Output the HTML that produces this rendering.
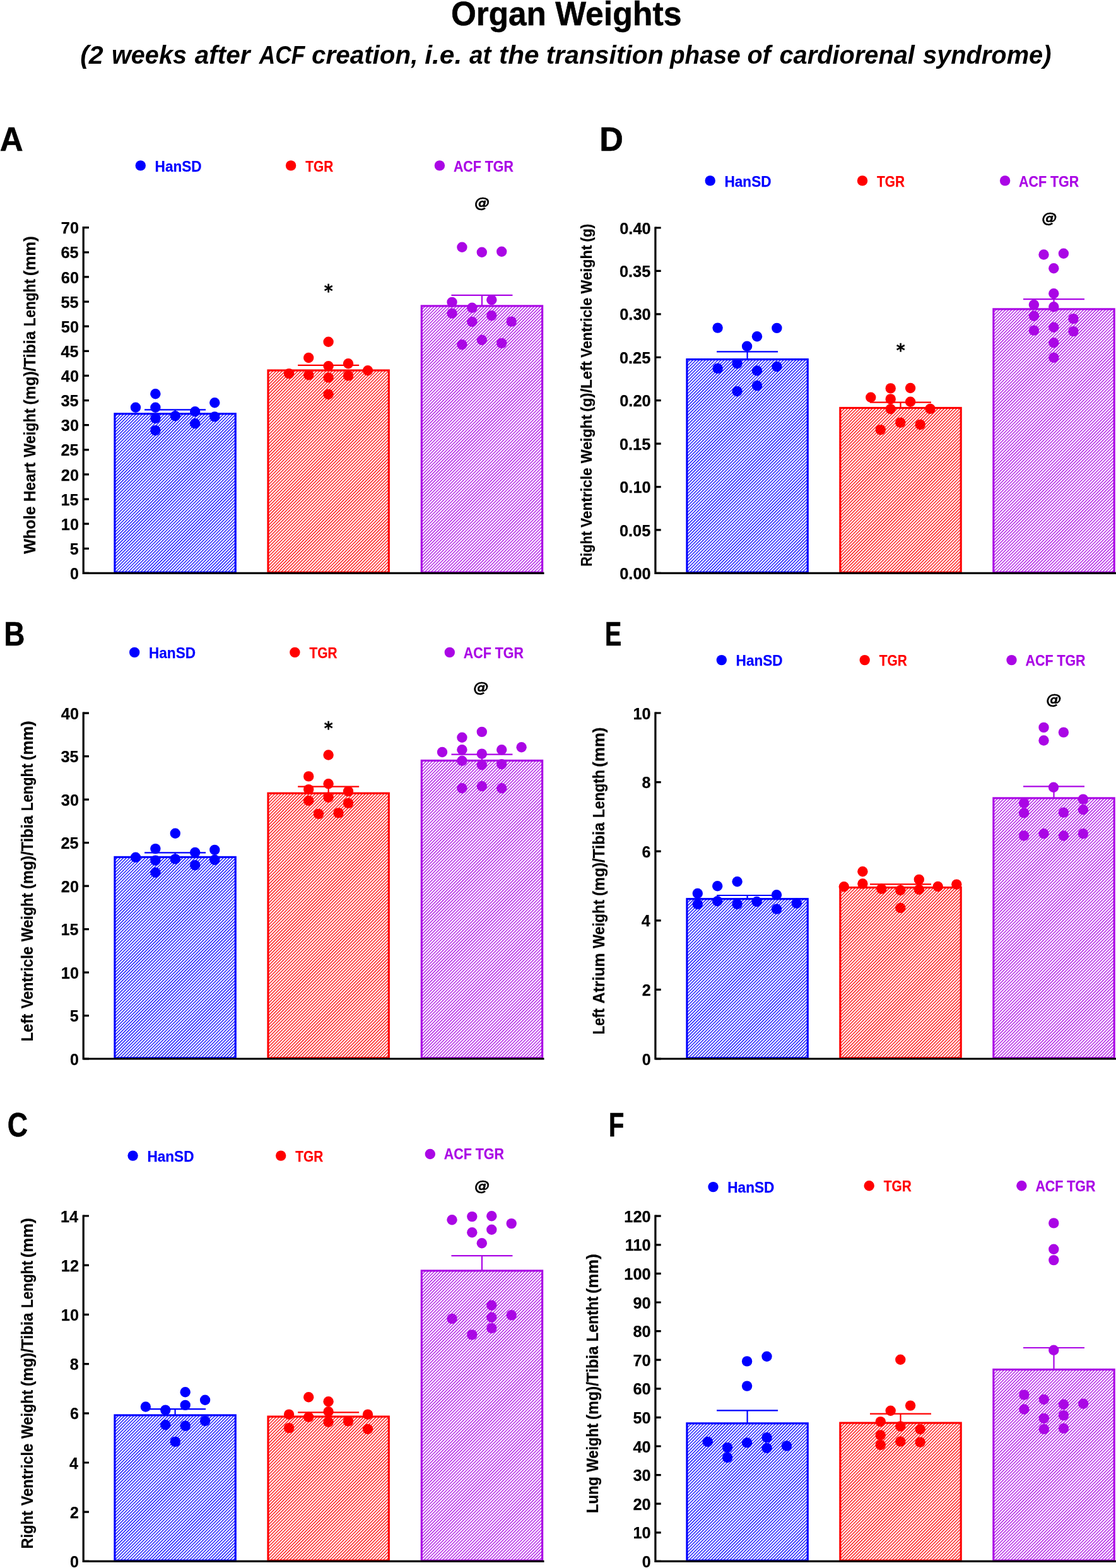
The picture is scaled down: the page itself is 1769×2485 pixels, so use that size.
<!DOCTYPE html>
<html lang="en"><head><meta charset="utf-8"><title>Organ Weights</title>
<style>html,body{margin:0;padding:0;background:#fff}body{width:1769px;height:2485px;overflow:hidden}svg{display:block}text{font-family:"Liberation Sans",sans-serif;font-weight:bold;white-space:pre}.dj{font-family:"DejaVu Sans","Liberation Sans",sans-serif}</style></head><body>
<svg width="1769" height="2485" viewBox="0 0 1769 2485">
<defs><pattern id="hb" patternUnits="userSpaceOnUse" width="3.5" height="8" patternTransform="rotate(45)"><rect x="0" y="0" width="1.3" height="8" fill="#0000ff"/></pattern><pattern id="hr" patternUnits="userSpaceOnUse" width="3.5" height="8" patternTransform="rotate(45)"><rect x="0" y="0" width="1.3" height="8" fill="#ff0000"/></pattern><pattern id="hp" patternUnits="userSpaceOnUse" width="3.5" height="8" patternTransform="rotate(45)"><rect x="0" y="0" width="1.3" height="8" fill="#aa06e5"/></pattern></defs>
<rect width="1769" height="2485" fill="#fff"/>
<text x="714.91" y="39.90" font-size="53.05" fill="#000" stroke="#000" stroke-width="0.53" textLength="150.99" lengthAdjust="spacingAndGlyphs">Organ</text>
<text x="880.14" y="39.90" font-size="53.05" fill="#000" stroke="#000" stroke-width="0.53" textLength="200.31" lengthAdjust="spacingAndGlyphs">Weights</text>
<text x="127.16" y="100.50" font-size="41.43" font-style="italic" fill="#000" textLength="36.62" lengthAdjust="spacingAndGlyphs">(2</text>
<text x="176.91" y="100.50" font-size="41.43" font-style="italic" fill="#000" textLength="119.18" lengthAdjust="spacingAndGlyphs">weeks</text>
<text x="308.70" y="100.50" font-size="41.43" font-style="italic" fill="#000" textLength="87.78" lengthAdjust="spacingAndGlyphs">after</text>
<text x="410.80" y="100.50" font-size="41.43" font-style="italic" fill="#000" textLength="72.41" lengthAdjust="spacingAndGlyphs">ACF</text>
<text x="493.89" y="100.50" font-size="41.43" font-style="italic" fill="#000" textLength="168.68" lengthAdjust="spacingAndGlyphs">creation,</text>
<text x="673.16" y="100.50" font-size="41.43" font-style="italic" fill="#000" textLength="59.04" lengthAdjust="spacingAndGlyphs">i.e.</text>
<text x="743.91" y="100.50" font-size="41.43" font-style="italic" fill="#000" textLength="34.40" lengthAdjust="spacingAndGlyphs">at</text>
<text x="791.10" y="100.50" font-size="41.43" font-style="italic" fill="#000" textLength="63.46" lengthAdjust="spacingAndGlyphs">the</text>
<text x="865.77" y="100.50" font-size="41.43" font-style="italic" fill="#000" textLength="185.90" lengthAdjust="spacingAndGlyphs">transition</text>
<text x="1061.97" y="100.50" font-size="41.43" font-style="italic" fill="#000" textLength="111.80" lengthAdjust="spacingAndGlyphs">phase</text>
<text x="1184.41" y="100.50" font-size="41.43" font-style="italic" fill="#000" textLength="37.38" lengthAdjust="spacingAndGlyphs">of</text>
<text x="1235.41" y="100.50" font-size="41.43" font-style="italic" fill="#000" textLength="214.45" lengthAdjust="spacingAndGlyphs">cardiorenal</text>
<text x="1463.00" y="100.50" font-size="41.43" font-style="italic" fill="#000" textLength="203.39" lengthAdjust="spacingAndGlyphs">syndrome)</text>
<rect x="181.93" y="655.78" width="191.35" height="251.42" fill="url(#hb)" stroke="#0000ff" stroke-width="3.15"/>
<rect x="424.97" y="586.98" width="191.35" height="320.22" fill="url(#hr)" stroke="#ff0000" stroke-width="3.15"/>
<rect x="668.28" y="484.88" width="191.35" height="422.32" fill="url(#hp)" stroke="#aa06e5" stroke-width="3.15"/>
<path d="M229.10 649.40H326.10M277.60 649.40V655.20" stroke="#0000ff" stroke-width="2.2" fill="none"/>
<path d="M472.15 578.80H569.15M520.65 578.80V586.40" stroke="#ff0000" stroke-width="2.2" fill="none"/>
<path d="M715.45 467.90H812.45M763.95 467.90V484.30" stroke="#aa06e5" stroke-width="2.2" fill="none"/>
<g fill="#0000ff"><circle cx="215.0" cy="645.7" r="8.2"/><circle cx="246.4" cy="624.2" r="8.2"/><circle cx="246.4" cy="645.7" r="8.2"/><circle cx="246.4" cy="663.0" r="8.2"/><circle cx="246.4" cy="682.2" r="8.2"/><circle cx="277.8" cy="659.3" r="8.2"/><circle cx="309.2" cy="652.3" r="8.2"/><circle cx="309.2" cy="671.2" r="8.2"/><circle cx="340.3" cy="638.3" r="8.2"/><circle cx="340.3" cy="660.4" r="8.2"/></g>
<g fill="#ff0000"><circle cx="458.1" cy="592.1" r="8.2"/><circle cx="489.2" cy="567.0" r="8.2"/><circle cx="489.2" cy="594.3" r="8.2"/><circle cx="520.6" cy="541.7" r="8.2"/><circle cx="520.6" cy="580.3" r="8.2"/><circle cx="520.6" cy="598.4" r="8.2"/><circle cx="520.6" cy="625.0" r="8.2"/><circle cx="552.0" cy="576.2" r="8.2"/><circle cx="552.0" cy="595.4" r="8.2"/><circle cx="583.0" cy="587.3" r="8.2"/></g>
<g fill="#aa06e5"><circle cx="732.4" cy="391.7" r="8.2"/><circle cx="763.8" cy="399.8" r="8.2"/><circle cx="795.2" cy="398.7" r="8.2"/><circle cx="716.5" cy="478.9" r="8.2"/><circle cx="779.3" cy="475.2" r="8.2"/><circle cx="748.3" cy="487.8" r="8.2"/><circle cx="716.5" cy="496.6" r="8.2"/><circle cx="779.3" cy="500.3" r="8.2"/><circle cx="748.3" cy="509.9" r="8.2"/><circle cx="810.7" cy="509.6" r="8.2"/><circle cx="732.4" cy="546.2" r="8.2"/><circle cx="763.8" cy="538.8" r="8.2"/><circle cx="795.2" cy="543.9" r="8.2"/></g>
<path d="M132.20 359.10V910.00M130.60 908.40H862.50" stroke="#000" stroke-width="3.2" fill="none"/>
<path d="M132.20 360.70h8.80M132.20 399.82h8.80M132.20 438.94h8.80M132.20 478.06h8.80M132.20 517.19h8.80M132.20 556.31h8.80M132.20 595.43h8.80M132.20 634.55h8.80M132.20 673.67h8.80M132.20 712.79h8.80M132.20 751.91h8.80M132.20 791.04h8.80M132.20 830.16h8.80M132.20 869.28h8.80M132.20 908.40h8.80" stroke="#000" stroke-width="3.2" fill="none"/>
<text x="96.85" y="370.30" font-size="25.00" fill="#000" stroke="#000" stroke-width="0.25" textLength="28.09" lengthAdjust="spacingAndGlyphs">70</text>
<text x="96.53" y="409.42" font-size="25.00" fill="#000" stroke="#000" stroke-width="0.25" textLength="28.10" lengthAdjust="spacingAndGlyphs">65</text>
<text x="96.85" y="448.54" font-size="25.00" fill="#000" stroke="#000" stroke-width="0.25" textLength="28.10" lengthAdjust="spacingAndGlyphs">60</text>
<text x="96.53" y="487.66" font-size="25.00" fill="#000" stroke="#000" stroke-width="0.25" textLength="28.10" lengthAdjust="spacingAndGlyphs">55</text>
<text x="96.85" y="526.79" font-size="25.00" fill="#000" stroke="#000" stroke-width="0.25" textLength="28.10" lengthAdjust="spacingAndGlyphs">50</text>
<text x="96.52" y="565.91" font-size="25.00" fill="#000" stroke="#000" stroke-width="0.25" textLength="28.10" lengthAdjust="spacingAndGlyphs">45</text>
<text x="96.84" y="605.03" font-size="25.00" fill="#000" stroke="#000" stroke-width="0.25" textLength="28.10" lengthAdjust="spacingAndGlyphs">40</text>
<text x="96.53" y="644.15" font-size="25.00" fill="#000" stroke="#000" stroke-width="0.25" textLength="28.10" lengthAdjust="spacingAndGlyphs">35</text>
<text x="96.84" y="683.27" font-size="25.00" fill="#000" stroke="#000" stroke-width="0.25" textLength="28.10" lengthAdjust="spacingAndGlyphs">30</text>
<text x="96.53" y="722.39" font-size="25.00" fill="#000" stroke="#000" stroke-width="0.25" textLength="28.10" lengthAdjust="spacingAndGlyphs">25</text>
<text x="96.85" y="761.51" font-size="25.00" fill="#000" stroke="#000" stroke-width="0.25" textLength="28.10" lengthAdjust="spacingAndGlyphs">20</text>
<text x="96.54" y="800.64" font-size="25.00" fill="#000" stroke="#000" stroke-width="0.25" textLength="28.09" lengthAdjust="spacingAndGlyphs">15</text>
<text x="96.86" y="839.76" font-size="25.00" fill="#000" stroke="#000" stroke-width="0.25" textLength="28.09" lengthAdjust="spacingAndGlyphs">10</text>
<text x="110.69" y="878.88" font-size="25.00" fill="#000" stroke="#000" stroke-width="0.25" textLength="13.90" lengthAdjust="spacingAndGlyphs">5</text>
<text x="111.01" y="918.00" font-size="25.00" fill="#000" stroke="#000" stroke-width="0.25" textLength="13.89" lengthAdjust="spacingAndGlyphs">0</text>
<text transform="translate(55.70 877.67) rotate(-90)" x="-0.06" y="0" font-size="25.00" fill="#000" stroke="#000" stroke-width="0.25" textLength="75.38" lengthAdjust="spacingAndGlyphs">Whole</text>
<text transform="translate(55.70 793.37) rotate(-90)" x="-1.64" y="0" font-size="25.00" fill="#000" stroke="#000" stroke-width="0.25" textLength="62.03" lengthAdjust="spacingAndGlyphs">Heart</text>
<text transform="translate(55.70 724.67) rotate(-90)" x="-0.06" y="0" font-size="25.00" fill="#000" stroke="#000" stroke-width="0.25" textLength="77.19" lengthAdjust="spacingAndGlyphs">Weight</text>
<text transform="translate(55.70 640.27) rotate(-90)" x="-1.22" y="0" font-size="25.00" fill="#000" stroke="#000" stroke-width="0.25" textLength="116.54" lengthAdjust="spacingAndGlyphs">(mg)/Tibia</text>
<text transform="translate(55.70 515.67) rotate(-90)" x="-1.52" y="0" font-size="25.00" fill="#000" stroke="#000" stroke-width="0.25" textLength="75.05" lengthAdjust="spacingAndGlyphs">Lenght</text>
<text transform="translate(55.70 435.87) rotate(-90)" x="-1.29" y="0" font-size="25.00" fill="#000" stroke="#000" stroke-width="0.25" textLength="63.01" lengthAdjust="spacingAndGlyphs">(mm)</text>
<circle cx="222.8" cy="262.4" r="8.2" fill="#0000ff"/>
<text x="245.60" y="271.90" font-size="24.71" fill="#0000ff" stroke="#0000ff" stroke-width="0.25" textLength="74.06" lengthAdjust="spacingAndGlyphs">HanSD</text>
<circle cx="461.1" cy="262.4" r="8.2" fill="#ff0000"/>
<text x="484.22" y="271.90" font-size="24.71" fill="#ff0000" stroke="#ff0000" stroke-width="0.25" textLength="43.95" lengthAdjust="spacingAndGlyphs">TGR</text>
<circle cx="696.9" cy="262.4" r="8.2" fill="#aa06e5"/>
<text x="718.89" y="271.90" font-size="24.71" fill="#aa06e5" stroke="#aa06e5" stroke-width="0.25" textLength="95.05" lengthAdjust="spacingAndGlyphs">ACF TGR</text>
<text x="-0.31" y="238.80" font-size="53.78" fill="#000" stroke="#000" stroke-width="0.54" textLength="36.93" lengthAdjust="spacingAndGlyphs">A</text>
<text x="752.30" y="329.00" font-size="23.77" font-style="italic" class="dj" fill="#000" stroke="#000" stroke-width="0.45" textLength="24.48" lengthAdjust="spacingAndGlyphs">@</text>
<text x="513.67" y="470.80" font-size="28.82" class="dj" fill="#000" stroke="#000" stroke-width="0.45" textLength="13.87" lengthAdjust="spacingAndGlyphs">*</text>
<rect x="181.93" y="1358.38" width="191.35" height="318.43" fill="url(#hb)" stroke="#0000ff" stroke-width="3.15"/>
<rect x="424.97" y="1257.17" width="191.35" height="419.63" fill="url(#hr)" stroke="#ff0000" stroke-width="3.15"/>
<rect x="668.28" y="1205.38" width="191.35" height="471.43" fill="url(#hp)" stroke="#aa06e5" stroke-width="3.15"/>
<path d="M229.10 1351.40H326.10M277.60 1351.40V1357.80" stroke="#0000ff" stroke-width="2.2" fill="none"/>
<path d="M472.15 1246.70H569.15M520.65 1246.70V1256.60" stroke="#ff0000" stroke-width="2.2" fill="none"/>
<path d="M715.45 1195.70H812.45M763.95 1195.70V1204.80" stroke="#aa06e5" stroke-width="2.2" fill="none"/>
<g fill="#0000ff"><circle cx="277.8" cy="1320.7" r="8.2"/><circle cx="246.4" cy="1345.1" r="8.2"/><circle cx="340.3" cy="1346.9" r="8.2"/><circle cx="309.2" cy="1351.0" r="8.2"/><circle cx="215.0" cy="1358.8" r="8.2"/><circle cx="277.8" cy="1361.4" r="8.2"/><circle cx="246.4" cy="1363.6" r="8.2"/><circle cx="340.3" cy="1362.8" r="8.2"/><circle cx="309.2" cy="1371.3" r="8.2"/><circle cx="246.4" cy="1382.8" r="8.2"/></g>
<g fill="#ff0000"><circle cx="520.6" cy="1196.5" r="8.2"/><circle cx="489.2" cy="1230.4" r="8.2"/><circle cx="520.6" cy="1242.3" r="8.2"/><circle cx="489.2" cy="1251.1" r="8.2"/><circle cx="552.0" cy="1254.1" r="8.2"/><circle cx="520.6" cy="1263.7" r="8.2"/><circle cx="489.2" cy="1268.9" r="8.2"/><circle cx="552.0" cy="1272.9" r="8.2"/><circle cx="505.0" cy="1289.9" r="8.2"/><circle cx="536.5" cy="1288.4" r="8.2"/></g>
<g fill="#aa06e5"><circle cx="701.0" cy="1192.0" r="8.2"/><circle cx="732.4" cy="1168.7" r="8.2"/><circle cx="763.8" cy="1159.9" r="8.2"/><circle cx="732.4" cy="1188.3" r="8.2"/><circle cx="795.2" cy="1188.3" r="8.2"/><circle cx="826.6" cy="1184.3" r="8.2"/><circle cx="763.8" cy="1194.6" r="8.2"/><circle cx="732.4" cy="1205.7" r="8.2"/><circle cx="763.8" cy="1212.3" r="8.2"/><circle cx="795.2" cy="1211.2" r="8.2"/><circle cx="732.4" cy="1249.3" r="8.2"/><circle cx="763.8" cy="1246.0" r="8.2"/><circle cx="795.2" cy="1249.3" r="8.2"/></g>
<path d="M132.20 1128.60V1679.60M130.60 1678.00H862.50" stroke="#000" stroke-width="3.2" fill="none"/>
<path d="M132.20 1130.20h8.80M132.20 1198.67h8.80M132.20 1267.15h8.80M132.20 1335.62h8.80M132.20 1404.10h8.80M132.20 1472.58h8.80M132.20 1541.05h8.80M132.20 1609.53h8.80M132.20 1678.00h8.80" stroke="#000" stroke-width="3.2" fill="none"/>
<text x="96.84" y="1139.80" font-size="25.00" fill="#000" stroke="#000" stroke-width="0.25" textLength="28.10" lengthAdjust="spacingAndGlyphs">40</text>
<text x="96.53" y="1208.27" font-size="25.00" fill="#000" stroke="#000" stroke-width="0.25" textLength="28.10" lengthAdjust="spacingAndGlyphs">35</text>
<text x="96.84" y="1276.75" font-size="25.00" fill="#000" stroke="#000" stroke-width="0.25" textLength="28.10" lengthAdjust="spacingAndGlyphs">30</text>
<text x="96.53" y="1345.22" font-size="25.00" fill="#000" stroke="#000" stroke-width="0.25" textLength="28.10" lengthAdjust="spacingAndGlyphs">25</text>
<text x="96.85" y="1413.70" font-size="25.00" fill="#000" stroke="#000" stroke-width="0.25" textLength="28.10" lengthAdjust="spacingAndGlyphs">20</text>
<text x="96.54" y="1482.17" font-size="25.00" fill="#000" stroke="#000" stroke-width="0.25" textLength="28.09" lengthAdjust="spacingAndGlyphs">15</text>
<text x="96.86" y="1550.65" font-size="25.00" fill="#000" stroke="#000" stroke-width="0.25" textLength="28.09" lengthAdjust="spacingAndGlyphs">10</text>
<text x="110.69" y="1619.12" font-size="25.00" fill="#000" stroke="#000" stroke-width="0.25" textLength="13.90" lengthAdjust="spacingAndGlyphs">5</text>
<text x="111.01" y="1687.60" font-size="25.00" fill="#000" stroke="#000" stroke-width="0.25" textLength="13.89" lengthAdjust="spacingAndGlyphs">0</text>
<text transform="translate(52.20 1648.87) rotate(-90)" x="-1.61" y="0" font-size="25.00" fill="#000" stroke="#000" stroke-width="0.25" textLength="43.77" lengthAdjust="spacingAndGlyphs">Left</text>
<text transform="translate(52.20 1598.27) rotate(-90)" x="-0.18" y="0" font-size="25.00" fill="#000" stroke="#000" stroke-width="0.25" textLength="98.33" lengthAdjust="spacingAndGlyphs">Ventricle</text>
<text transform="translate(52.20 1492.27) rotate(-90)" x="-0.06" y="0" font-size="25.00" fill="#000" stroke="#000" stroke-width="0.25" textLength="77.19" lengthAdjust="spacingAndGlyphs">Weight</text>
<text transform="translate(52.20 1407.87) rotate(-90)" x="-1.22" y="0" font-size="25.00" fill="#000" stroke="#000" stroke-width="0.25" textLength="116.54" lengthAdjust="spacingAndGlyphs">(mg)/Tibia</text>
<text transform="translate(52.20 1283.77) rotate(-90)" x="-1.52" y="0" font-size="25.00" fill="#000" stroke="#000" stroke-width="0.25" textLength="75.05" lengthAdjust="spacingAndGlyphs">Lenght</text>
<text transform="translate(52.20 1203.77) rotate(-90)" x="-1.28" y="0" font-size="25.00" fill="#000" stroke="#000" stroke-width="0.25" textLength="62.59" lengthAdjust="spacingAndGlyphs">(mm)</text>
<circle cx="213.2" cy="1033.9" r="8.2" fill="#0000ff"/>
<text x="236.00" y="1043.40" font-size="24.71" fill="#0000ff" stroke="#0000ff" stroke-width="0.25" textLength="74.06" lengthAdjust="spacingAndGlyphs">HanSD</text>
<circle cx="467.4" cy="1033.9" r="8.2" fill="#ff0000"/>
<text x="490.52" y="1043.40" font-size="24.71" fill="#ff0000" stroke="#ff0000" stroke-width="0.25" textLength="43.95" lengthAdjust="spacingAndGlyphs">TGR</text>
<circle cx="712.8" cy="1033.9" r="8.2" fill="#aa06e5"/>
<text x="734.79" y="1043.40" font-size="24.71" fill="#aa06e5" stroke="#aa06e5" stroke-width="0.25" textLength="95.05" lengthAdjust="spacingAndGlyphs">ACF TGR</text>
<text x="6.37" y="1022.80" font-size="53.78" fill="#000" stroke="#000" stroke-width="0.54" textLength="33.10" lengthAdjust="spacingAndGlyphs">B</text>
<text x="750.50" y="1097.40" font-size="23.77" font-style="italic" class="dj" fill="#000" stroke="#000" stroke-width="0.45" textLength="24.48" lengthAdjust="spacingAndGlyphs">@</text>
<text x="513.87" y="1164.40" font-size="28.82" class="dj" fill="#000" stroke="#000" stroke-width="0.45" textLength="13.87" lengthAdjust="spacingAndGlyphs">*</text>
<rect x="181.93" y="2242.88" width="191.35" height="230.33" fill="url(#hb)" stroke="#0000ff" stroke-width="3.15"/>
<rect x="424.97" y="2245.07" width="191.35" height="228.13" fill="url(#hr)" stroke="#ff0000" stroke-width="3.15"/>
<rect x="668.28" y="2013.88" width="191.35" height="459.33" fill="url(#hp)" stroke="#aa06e5" stroke-width="3.15"/>
<path d="M229.10 2233.20H326.10M277.60 2233.20V2242.30" stroke="#0000ff" stroke-width="2.2" fill="none"/>
<path d="M472.15 2238.40H569.15M520.65 2238.40V2244.50" stroke="#ff0000" stroke-width="2.2" fill="none"/>
<path d="M715.45 1990.20H812.45M763.95 1990.20V2013.30" stroke="#aa06e5" stroke-width="2.2" fill="none"/>
<g fill="#0000ff"><circle cx="230.9" cy="2229.5" r="8.2"/><circle cx="262.3" cy="2234.6" r="8.2"/><circle cx="293.7" cy="2206.2" r="8.2"/><circle cx="293.7" cy="2226.9" r="8.2"/><circle cx="325.1" cy="2218.7" r="8.2"/><circle cx="325.1" cy="2252.0" r="8.2"/><circle cx="262.3" cy="2258.3" r="8.2"/><circle cx="293.7" cy="2259.8" r="8.2"/><circle cx="277.8" cy="2284.9" r="8.2"/></g>
<g fill="#ff0000"><circle cx="458.1" cy="2241.6" r="8.2"/><circle cx="458.1" cy="2263.1" r="8.2"/><circle cx="489.2" cy="2214.3" r="8.2"/><circle cx="489.2" cy="2245.7" r="8.2"/><circle cx="520.6" cy="2221.3" r="8.2"/><circle cx="520.6" cy="2237.2" r="8.2"/><circle cx="520.6" cy="2253.8" r="8.2"/><circle cx="552.0" cy="2252.4" r="8.2"/><circle cx="583.0" cy="2241.6" r="8.2"/><circle cx="583.0" cy="2264.9" r="8.2"/></g>
<g fill="#aa06e5"><circle cx="716.5" cy="1933.2" r="8.2"/><circle cx="748.3" cy="1928.1" r="8.2"/><circle cx="779.3" cy="1927.3" r="8.2"/><circle cx="810.7" cy="1939.1" r="8.2"/><circle cx="748.3" cy="1953.2" r="8.2"/><circle cx="779.3" cy="1948.7" r="8.2"/><circle cx="763.8" cy="1970.2" r="8.2"/><circle cx="779.3" cy="2068.8" r="8.2"/><circle cx="716.5" cy="2089.9" r="8.2"/><circle cx="779.3" cy="2087.7" r="8.2"/><circle cx="810.7" cy="2084.3" r="8.2"/><circle cx="779.3" cy="2105.0" r="8.2"/><circle cx="748.3" cy="2115.4" r="8.2"/></g>
<path d="M132.20 1925.40V2476.00M130.60 2474.40H862.50" stroke="#000" stroke-width="3.2" fill="none"/>
<path d="M132.20 1927.00h8.80M132.20 2005.20h8.80M132.20 2083.40h8.80M132.20 2161.60h8.80M132.20 2239.80h8.80M132.20 2318.00h8.80M132.20 2396.20h8.80M132.20 2474.40h8.80" stroke="#000" stroke-width="3.2" fill="none"/>
<text x="95.96" y="1936.60" font-size="25.00" fill="#000" stroke="#000" stroke-width="0.25" textLength="28.10" lengthAdjust="spacingAndGlyphs">14</text>
<text x="96.86" y="2014.80" font-size="25.00" fill="#000" stroke="#000" stroke-width="0.25" textLength="28.09" lengthAdjust="spacingAndGlyphs">12</text>
<text x="96.86" y="2093.00" font-size="25.00" fill="#000" stroke="#000" stroke-width="0.25" textLength="28.09" lengthAdjust="spacingAndGlyphs">10</text>
<text x="110.75" y="2171.20" font-size="25.00" fill="#000" stroke="#000" stroke-width="0.25" textLength="13.90" lengthAdjust="spacingAndGlyphs">8</text>
<text x="110.88" y="2249.40" font-size="25.00" fill="#000" stroke="#000" stroke-width="0.25" textLength="13.89" lengthAdjust="spacingAndGlyphs">6</text>
<text x="110.11" y="2327.60" font-size="25.00" fill="#000" stroke="#000" stroke-width="0.25" textLength="13.92" lengthAdjust="spacingAndGlyphs">4</text>
<text x="111.01" y="2405.80" font-size="25.00" fill="#000" stroke="#000" stroke-width="0.25" textLength="13.89" lengthAdjust="spacingAndGlyphs">2</text>
<text x="111.01" y="2484.00" font-size="25.00" fill="#000" stroke="#000" stroke-width="0.25" textLength="13.89" lengthAdjust="spacingAndGlyphs">0</text>
<text transform="translate(52.20 2452.87) rotate(-90)" x="-1.59" y="0" font-size="25.00" fill="#000" stroke="#000" stroke-width="0.25" textLength="60.02" lengthAdjust="spacingAndGlyphs">Right</text>
<text transform="translate(52.20 2386.07) rotate(-90)" x="-0.18" y="0" font-size="25.00" fill="#000" stroke="#000" stroke-width="0.25" textLength="98.33" lengthAdjust="spacingAndGlyphs">Ventricle</text>
<text transform="translate(52.20 2279.97) rotate(-90)" x="-0.06" y="0" font-size="25.00" fill="#000" stroke="#000" stroke-width="0.25" textLength="77.19" lengthAdjust="spacingAndGlyphs">Weight</text>
<text transform="translate(52.20 2195.67) rotate(-90)" x="-1.22" y="0" font-size="25.00" fill="#000" stroke="#000" stroke-width="0.25" textLength="116.54" lengthAdjust="spacingAndGlyphs">(mg)/Tibia</text>
<text transform="translate(52.20 2071.57) rotate(-90)" x="-1.52" y="0" font-size="25.00" fill="#000" stroke="#000" stroke-width="0.25" textLength="75.05" lengthAdjust="spacingAndGlyphs">Lenght</text>
<text transform="translate(52.20 1991.97) rotate(-90)" x="-1.29" y="0" font-size="25.00" fill="#000" stroke="#000" stroke-width="0.25" textLength="63.01" lengthAdjust="spacingAndGlyphs">(mm)</text>
<circle cx="210.6" cy="1831.6" r="8.2" fill="#0000ff"/>
<text x="233.40" y="1841.10" font-size="24.71" fill="#0000ff" stroke="#0000ff" stroke-width="0.25" textLength="74.06" lengthAdjust="spacingAndGlyphs">HanSD</text>
<circle cx="445.2" cy="1831.6" r="8.2" fill="#ff0000"/>
<text x="468.32" y="1841.10" font-size="24.71" fill="#ff0000" stroke="#ff0000" stroke-width="0.25" textLength="43.95" lengthAdjust="spacingAndGlyphs">TGR</text>
<circle cx="681.8" cy="1829.0" r="8.2" fill="#aa06e5"/>
<text x="703.79" y="1837.30" font-size="24.71" fill="#aa06e5" stroke="#aa06e5" stroke-width="0.25" textLength="95.05" lengthAdjust="spacingAndGlyphs">ACF TGR</text>
<text x="11.78" y="1801.00" font-size="53.78" fill="#000" stroke="#000" stroke-width="0.54" textLength="32.37" lengthAdjust="spacingAndGlyphs">C</text>
<text x="752.30" y="1886.70" font-size="23.77" font-style="italic" class="dj" fill="#000" stroke="#000" stroke-width="0.45" textLength="24.48" lengthAdjust="spacingAndGlyphs">@</text>
<rect x="1088.92" y="569.58" width="191.35" height="337.62" fill="url(#hb)" stroke="#0000ff" stroke-width="3.15"/>
<rect x="1331.83" y="646.48" width="191.35" height="260.72" fill="url(#hr)" stroke="#ff0000" stroke-width="3.15"/>
<rect x="1574.83" y="489.88" width="191.35" height="417.32" fill="url(#hp)" stroke="#aa06e5" stroke-width="3.15"/>
<path d="M1136.10 557.30H1233.10M1184.60 557.30V569.00" stroke="#0000ff" stroke-width="2.2" fill="none"/>
<path d="M1379.00 637.60H1476.00M1427.50 637.60V645.90" stroke="#ff0000" stroke-width="2.2" fill="none"/>
<path d="M1622.00 474.20H1719.00M1670.50 474.20V489.30" stroke="#aa06e5" stroke-width="2.2" fill="none"/>
<g fill="#0000ff"><circle cx="1137.6" cy="519.6" r="8.2"/><circle cx="1231.4" cy="519.9" r="8.2"/><circle cx="1200.0" cy="533.2" r="8.2"/><circle cx="1184.1" cy="548.8" r="8.2"/><circle cx="1168.6" cy="576.3" r="8.2"/><circle cx="1137.6" cy="584.0" r="8.2"/><circle cx="1231.4" cy="581.0" r="8.2"/><circle cx="1200.0" cy="587.5" r="8.2"/><circle cx="1200.0" cy="611.3" r="8.2"/><circle cx="1168.6" cy="620.2" r="8.2"/></g>
<g fill="#ff0000"><circle cx="1380.3" cy="629.8" r="8.2"/><circle cx="1411.7" cy="615.4" r="8.2"/><circle cx="1443.1" cy="615.0" r="8.2"/><circle cx="1411.7" cy="632.4" r="8.2"/><circle cx="1443.1" cy="636.8" r="8.2"/><circle cx="1411.7" cy="648.3" r="8.2"/><circle cx="1474.5" cy="647.9" r="8.2"/><circle cx="1427.3" cy="669.7" r="8.2"/><circle cx="1458.7" cy="673.0" r="8.2"/><circle cx="1395.8" cy="681.1" r="8.2"/></g>
<g fill="#aa06e5"><circle cx="1654.5" cy="403.5" r="8.2"/><circle cx="1685.9" cy="401.7" r="8.2"/><circle cx="1670.3" cy="425.3" r="8.2"/><circle cx="1670.3" cy="465.2" r="8.2"/><circle cx="1638.9" cy="483.0" r="8.2"/><circle cx="1670.3" cy="486.3" r="8.2"/><circle cx="1638.9" cy="500.7" r="8.2"/><circle cx="1701.4" cy="505.1" r="8.2"/><circle cx="1670.3" cy="518.8" r="8.2"/><circle cx="1638.9" cy="523.6" r="8.2"/><circle cx="1701.4" cy="525.1" r="8.2"/><circle cx="1670.3" cy="543.2" r="8.2"/><circle cx="1670.3" cy="566.7" r="8.2"/></g>
<path d="M1038.90 359.40V910.00M1037.30 908.40H1769.00" stroke="#000" stroke-width="3.2" fill="none"/>
<path d="M1038.90 361.00h8.80M1038.90 429.43h8.80M1038.90 497.85h8.80M1038.90 566.27h8.80M1038.90 634.70h8.80M1038.90 703.12h8.80M1038.90 771.55h8.80M1038.90 839.97h8.80M1038.90 908.40h8.80" stroke="#000" stroke-width="3.2" fill="none"/>
<text x="982.25" y="370.60" font-size="25.00" fill="#000" stroke="#000" stroke-width="0.25" textLength="49.37" lengthAdjust="spacingAndGlyphs">0.40</text>
<text x="981.93" y="439.03" font-size="25.00" fill="#000" stroke="#000" stroke-width="0.25" textLength="49.37" lengthAdjust="spacingAndGlyphs">0.35</text>
<text x="982.25" y="507.45" font-size="25.00" fill="#000" stroke="#000" stroke-width="0.25" textLength="49.37" lengthAdjust="spacingAndGlyphs">0.30</text>
<text x="981.93" y="575.88" font-size="25.00" fill="#000" stroke="#000" stroke-width="0.25" textLength="49.37" lengthAdjust="spacingAndGlyphs">0.25</text>
<text x="982.25" y="644.30" font-size="25.00" fill="#000" stroke="#000" stroke-width="0.25" textLength="49.37" lengthAdjust="spacingAndGlyphs">0.20</text>
<text x="981.93" y="712.73" font-size="25.00" fill="#000" stroke="#000" stroke-width="0.25" textLength="49.37" lengthAdjust="spacingAndGlyphs">0.15</text>
<text x="982.25" y="781.15" font-size="25.00" fill="#000" stroke="#000" stroke-width="0.25" textLength="49.37" lengthAdjust="spacingAndGlyphs">0.10</text>
<text x="981.93" y="849.57" font-size="25.00" fill="#000" stroke="#000" stroke-width="0.25" textLength="49.37" lengthAdjust="spacingAndGlyphs">0.05</text>
<text x="982.25" y="918.00" font-size="25.00" fill="#000" stroke="#000" stroke-width="0.25" textLength="49.37" lengthAdjust="spacingAndGlyphs">0.00</text>
<text transform="translate(938.30 896.28) rotate(-90)" x="-1.47" y="0" font-size="24.71" fill="#000" stroke="#000" stroke-width="0.25" textLength="55.79" lengthAdjust="spacingAndGlyphs">Right</text>
<text transform="translate(938.30 835.88) rotate(-90)" x="-0.17" y="0" font-size="24.71" fill="#000" stroke="#000" stroke-width="0.25" textLength="94.70" lengthAdjust="spacingAndGlyphs">Ventricle</text>
<text transform="translate(938.30 734.28) rotate(-90)" x="-0.06" y="0" font-size="24.71" fill="#000" stroke="#000" stroke-width="0.25" textLength="76.99" lengthAdjust="spacingAndGlyphs">Weight</text>
<text transform="translate(938.30 651.68) rotate(-90)" x="-1.19" y="0" font-size="24.71" fill="#000" stroke="#000" stroke-width="0.25" textLength="80.65" lengthAdjust="spacingAndGlyphs">(g)/Left</text>
<text transform="translate(938.30 566.58) rotate(-90)" x="-0.17" y="0" font-size="24.71" fill="#000" stroke="#000" stroke-width="0.25" textLength="94.80" lengthAdjust="spacingAndGlyphs">Ventricle</text>
<text transform="translate(938.30 465.48) rotate(-90)" x="-0.06" y="0" font-size="24.71" fill="#000" stroke="#000" stroke-width="0.25" textLength="76.89" lengthAdjust="spacingAndGlyphs">Weight</text>
<text transform="translate(938.30 382.28) rotate(-90)" x="-1.12" y="0" font-size="24.71" fill="#000" stroke="#000" stroke-width="0.25" textLength="28.69" lengthAdjust="spacingAndGlyphs">(g)</text>
<circle cx="1125.7" cy="286.4" r="8.2" fill="#0000ff"/>
<text x="1148.50" y="295.90" font-size="24.71" fill="#0000ff" stroke="#0000ff" stroke-width="0.25" textLength="74.06" lengthAdjust="spacingAndGlyphs">HanSD</text>
<circle cx="1367.0" cy="286.4" r="8.2" fill="#ff0000"/>
<text x="1390.12" y="295.90" font-size="24.71" fill="#ff0000" stroke="#ff0000" stroke-width="0.25" textLength="43.95" lengthAdjust="spacingAndGlyphs">TGR</text>
<circle cx="1593.1" cy="286.4" r="8.2" fill="#aa06e5"/>
<text x="1615.09" y="295.90" font-size="24.71" fill="#aa06e5" stroke="#aa06e5" stroke-width="0.25" textLength="95.05" lengthAdjust="spacingAndGlyphs">ACF TGR</text>
<text x="950.35" y="238.80" font-size="53.78" fill="#000" stroke="#000" stroke-width="0.54" textLength="37.69" lengthAdjust="spacingAndGlyphs">D</text>
<text x="1651.50" y="353.30" font-size="23.77" font-style="italic" class="dj" fill="#000" stroke="#000" stroke-width="0.45" textLength="24.48" lengthAdjust="spacingAndGlyphs">@</text>
<text x="1420.77" y="564.70" font-size="28.82" class="dj" fill="#000" stroke="#000" stroke-width="0.45" textLength="13.87" lengthAdjust="spacingAndGlyphs">*</text>
<rect x="1088.92" y="1424.67" width="191.35" height="252.13" fill="url(#hb)" stroke="#0000ff" stroke-width="3.15"/>
<rect x="1331.83" y="1406.58" width="191.35" height="270.22" fill="url(#hr)" stroke="#ff0000" stroke-width="3.15"/>
<rect x="1574.83" y="1264.88" width="191.35" height="411.93" fill="url(#hp)" stroke="#aa06e5" stroke-width="3.15"/>
<path d="M1136.10 1419.00H1233.10M1184.60 1419.00V1424.10" stroke="#0000ff" stroke-width="2.2" fill="none"/>
<path d="M1379.00 1401.30H1476.00M1427.50 1401.30V1406.00" stroke="#ff0000" stroke-width="2.2" fill="none"/>
<path d="M1622.00 1246.40H1719.00M1670.50 1246.40V1264.30" stroke="#aa06e5" stroke-width="2.2" fill="none"/>
<g fill="#0000ff"><circle cx="1105.8" cy="1416.0" r="8.2"/><circle cx="1105.8" cy="1433.0" r="8.2"/><circle cx="1137.2" cy="1404.3" r="8.2"/><circle cx="1137.2" cy="1428.2" r="8.2"/><circle cx="1168.6" cy="1397.2" r="8.2"/><circle cx="1168.6" cy="1433.0" r="8.2"/><circle cx="1199.6" cy="1429.0" r="8.2"/><circle cx="1231.0" cy="1418.3" r="8.2"/><circle cx="1231.0" cy="1440.8" r="8.2"/><circle cx="1262.8" cy="1431.6" r="8.2"/></g>
<g fill="#ff0000"><circle cx="1337.8" cy="1405.3" r="8.2"/><circle cx="1367.4" cy="1381.3" r="8.2"/><circle cx="1367.4" cy="1400.5" r="8.2"/><circle cx="1397.3" cy="1408.6" r="8.2"/><circle cx="1427.3" cy="1410.9" r="8.2"/><circle cx="1427.3" cy="1438.9" r="8.2"/><circle cx="1456.8" cy="1393.9" r="8.2"/><circle cx="1456.8" cy="1409.8" r="8.2"/><circle cx="1486.7" cy="1405.0" r="8.2"/><circle cx="1516.3" cy="1401.6" r="8.2"/></g>
<g fill="#aa06e5"><circle cx="1654.5" cy="1152.9" r="8.2"/><circle cx="1685.9" cy="1160.6" r="8.2"/><circle cx="1654.5" cy="1173.5" r="8.2"/><circle cx="1670.0" cy="1247.8" r="8.2"/><circle cx="1716.9" cy="1266.6" r="8.2"/><circle cx="1623.1" cy="1272.6" r="8.2"/><circle cx="1716.9" cy="1283.3" r="8.2"/><circle cx="1623.1" cy="1288.4" r="8.2"/><circle cx="1685.9" cy="1287.7" r="8.2"/><circle cx="1623.1" cy="1324.5" r="8.2"/><circle cx="1654.5" cy="1321.2" r="8.2"/><circle cx="1685.9" cy="1324.5" r="8.2"/><circle cx="1716.9" cy="1321.2" r="8.2"/></g>
<path d="M1038.90 1128.40V1679.60M1037.30 1678.00H1769.00" stroke="#000" stroke-width="3.2" fill="none"/>
<path d="M1038.90 1130.00h8.80M1038.90 1239.60h8.80M1038.90 1349.20h8.80M1038.90 1458.80h8.80M1038.90 1568.40h8.80M1038.90 1678.00h8.80" stroke="#000" stroke-width="3.2" fill="none"/>
<text x="1003.56" y="1139.60" font-size="25.00" fill="#000" stroke="#000" stroke-width="0.25" textLength="28.09" lengthAdjust="spacingAndGlyphs">10</text>
<text x="1017.45" y="1249.20" font-size="25.00" fill="#000" stroke="#000" stroke-width="0.25" textLength="13.90" lengthAdjust="spacingAndGlyphs">8</text>
<text x="1017.58" y="1358.80" font-size="25.00" fill="#000" stroke="#000" stroke-width="0.25" textLength="13.89" lengthAdjust="spacingAndGlyphs">6</text>
<text x="1016.81" y="1468.40" font-size="25.00" fill="#000" stroke="#000" stroke-width="0.25" textLength="13.92" lengthAdjust="spacingAndGlyphs">4</text>
<text x="1017.71" y="1578.00" font-size="25.00" fill="#000" stroke="#000" stroke-width="0.25" textLength="13.89" lengthAdjust="spacingAndGlyphs">2</text>
<text x="1017.71" y="1687.60" font-size="25.00" fill="#000" stroke="#000" stroke-width="0.25" textLength="13.89" lengthAdjust="spacingAndGlyphs">0</text>
<text transform="translate(958.20 1638.07) rotate(-90)" x="-1.52" y="0" font-size="25.00" fill="#000" stroke="#000" stroke-width="0.25" textLength="41.37" lengthAdjust="spacingAndGlyphs">Left</text>
<text transform="translate(958.20 1589.87) rotate(-90)" x="-0.62" y="0" font-size="25.00" fill="#000" stroke="#000" stroke-width="0.25" textLength="80.22" lengthAdjust="spacingAndGlyphs">Atrium</text>
<text transform="translate(958.20 1503.07) rotate(-90)" x="-0.06" y="0" font-size="25.00" fill="#000" stroke="#000" stroke-width="0.25" textLength="77.19" lengthAdjust="spacingAndGlyphs">Weight</text>
<text transform="translate(958.20 1418.77) rotate(-90)" x="-1.22" y="0" font-size="25.00" fill="#000" stroke="#000" stroke-width="0.25" textLength="116.54" lengthAdjust="spacingAndGlyphs">(mg)/Tibia</text>
<text transform="translate(958.20 1294.57) rotate(-90)" x="-1.54" y="0" font-size="25.00" fill="#000" stroke="#000" stroke-width="0.25" textLength="76.17" lengthAdjust="spacingAndGlyphs">Length</text>
<text transform="translate(958.20 1214.37) rotate(-90)" x="-1.29" y="0" font-size="25.00" fill="#000" stroke="#000" stroke-width="0.25" textLength="63.12" lengthAdjust="spacingAndGlyphs">(mm)</text>
<circle cx="1143.8" cy="1046.1" r="8.2" fill="#0000ff"/>
<text x="1166.60" y="1054.60" font-size="24.71" fill="#0000ff" stroke="#0000ff" stroke-width="0.25" textLength="74.06" lengthAdjust="spacingAndGlyphs">HanSD</text>
<circle cx="1370.7" cy="1046.1" r="8.2" fill="#ff0000"/>
<text x="1393.82" y="1054.60" font-size="24.71" fill="#ff0000" stroke="#ff0000" stroke-width="0.25" textLength="43.95" lengthAdjust="spacingAndGlyphs">TGR</text>
<circle cx="1603.5" cy="1046.1" r="8.2" fill="#aa06e5"/>
<text x="1625.49" y="1054.60" font-size="24.71" fill="#aa06e5" stroke="#aa06e5" stroke-width="0.25" textLength="95.05" lengthAdjust="spacingAndGlyphs">ACF TGR</text>
<text x="958.87" y="1022.80" font-size="53.78" fill="#000" stroke="#000" stroke-width="0.54" textLength="26.63" lengthAdjust="spacingAndGlyphs">E</text>
<text x="1658.50" y="1115.80" font-size="23.77" font-style="italic" class="dj" fill="#000" stroke="#000" stroke-width="0.45" textLength="24.48" lengthAdjust="spacingAndGlyphs">@</text>
<rect x="1088.92" y="2255.77" width="191.35" height="217.43" fill="url(#hb)" stroke="#0000ff" stroke-width="3.15"/>
<rect x="1331.83" y="2255.07" width="191.35" height="218.13" fill="url(#hr)" stroke="#ff0000" stroke-width="3.15"/>
<rect x="1574.83" y="2170.47" width="191.35" height="302.73" fill="url(#hp)" stroke="#aa06e5" stroke-width="3.15"/>
<path d="M1136.10 2235.40H1233.10M1184.60 2235.40V2255.20" stroke="#0000ff" stroke-width="2.2" fill="none"/>
<path d="M1379.00 2240.60H1476.00M1427.50 2240.60V2254.50" stroke="#ff0000" stroke-width="2.2" fill="none"/>
<path d="M1622.00 2136.00H1719.00M1670.50 2136.00V2169.90" stroke="#aa06e5" stroke-width="2.2" fill="none"/>
<g fill="#0000ff"><circle cx="1184.1" cy="2157.4" r="8.2"/><circle cx="1215.5" cy="2149.7" r="8.2"/><circle cx="1184.1" cy="2196.6" r="8.2"/><circle cx="1121.7" cy="2284.9" r="8.2"/><circle cx="1153.1" cy="2294.1" r="8.2"/><circle cx="1153.1" cy="2310.0" r="8.2"/><circle cx="1184.1" cy="2286.4" r="8.2"/><circle cx="1215.5" cy="2278.2" r="8.2"/><circle cx="1215.5" cy="2294.9" r="8.2"/><circle cx="1246.9" cy="2291.5" r="8.2"/></g>
<g fill="#ff0000"><circle cx="1427.3" cy="2154.8" r="8.2"/><circle cx="1443.1" cy="2227.6" r="8.2"/><circle cx="1411.7" cy="2235.7" r="8.2"/><circle cx="1395.8" cy="2253.1" r="8.2"/><circle cx="1427.3" cy="2260.5" r="8.2"/><circle cx="1458.7" cy="2265.3" r="8.2"/><circle cx="1395.8" cy="2274.5" r="8.2"/><circle cx="1427.3" cy="2284.5" r="8.2"/><circle cx="1458.7" cy="2285.6" r="8.2"/><circle cx="1395.8" cy="2290.0" r="8.2"/></g>
<g fill="#aa06e5"><circle cx="1670.3" cy="1938.4" r="8.2"/><circle cx="1670.3" cy="1979.8" r="8.2"/><circle cx="1670.3" cy="1997.1" r="8.2"/><circle cx="1670.3" cy="2139.7" r="8.2"/><circle cx="1623.4" cy="2210.6" r="8.2"/><circle cx="1654.8" cy="2218.0" r="8.2"/><circle cx="1685.9" cy="2225.8" r="8.2"/><circle cx="1717.3" cy="2224.7" r="8.2"/><circle cx="1623.4" cy="2233.5" r="8.2"/><circle cx="1685.9" cy="2243.1" r="8.2"/><circle cx="1654.8" cy="2247.9" r="8.2"/><circle cx="1654.8" cy="2264.9" r="8.2"/><circle cx="1685.9" cy="2263.8" r="8.2"/></g>
<path d="M1038.90 1925.60V2476.00M1037.30 2474.40H1769.00" stroke="#000" stroke-width="3.2" fill="none"/>
<path d="M1038.90 1927.20h8.80M1038.90 1972.80h8.80M1038.90 2018.40h8.80M1038.90 2064.00h8.80M1038.90 2109.60h8.80M1038.90 2155.20h8.80M1038.90 2200.80h8.80M1038.90 2246.40h8.80M1038.90 2292.00h8.80M1038.90 2337.60h8.80M1038.90 2383.20h8.80M1038.90 2428.80h8.80M1038.90 2474.40h8.80" stroke="#000" stroke-width="3.2" fill="none"/>
<text x="989.33" y="1936.80" font-size="25.00" fill="#000" stroke="#000" stroke-width="0.25" textLength="42.28" lengthAdjust="spacingAndGlyphs">120</text>
<text x="990.74" y="1982.40" font-size="25.00" fill="#000" stroke="#000" stroke-width="0.25" textLength="40.87" lengthAdjust="spacingAndGlyphs">110</text>
<text x="989.33" y="2028.00" font-size="25.00" fill="#000" stroke="#000" stroke-width="0.25" textLength="42.28" lengthAdjust="spacingAndGlyphs">100</text>
<text x="1003.55" y="2073.60" font-size="25.00" fill="#000" stroke="#000" stroke-width="0.25" textLength="28.10" lengthAdjust="spacingAndGlyphs">90</text>
<text x="1003.55" y="2119.20" font-size="25.00" fill="#000" stroke="#000" stroke-width="0.25" textLength="28.10" lengthAdjust="spacingAndGlyphs">80</text>
<text x="1003.55" y="2164.80" font-size="25.00" fill="#000" stroke="#000" stroke-width="0.25" textLength="28.09" lengthAdjust="spacingAndGlyphs">70</text>
<text x="1003.55" y="2210.40" font-size="25.00" fill="#000" stroke="#000" stroke-width="0.25" textLength="28.10" lengthAdjust="spacingAndGlyphs">60</text>
<text x="1003.55" y="2256.00" font-size="25.00" fill="#000" stroke="#000" stroke-width="0.25" textLength="28.10" lengthAdjust="spacingAndGlyphs">50</text>
<text x="1003.54" y="2301.60" font-size="25.00" fill="#000" stroke="#000" stroke-width="0.25" textLength="28.10" lengthAdjust="spacingAndGlyphs">40</text>
<text x="1003.54" y="2347.20" font-size="25.00" fill="#000" stroke="#000" stroke-width="0.25" textLength="28.10" lengthAdjust="spacingAndGlyphs">30</text>
<text x="1003.55" y="2392.80" font-size="25.00" fill="#000" stroke="#000" stroke-width="0.25" textLength="28.10" lengthAdjust="spacingAndGlyphs">20</text>
<text x="1003.56" y="2438.40" font-size="25.00" fill="#000" stroke="#000" stroke-width="0.25" textLength="28.09" lengthAdjust="spacingAndGlyphs">10</text>
<text x="1017.71" y="2484.00" font-size="25.00" fill="#000" stroke="#000" stroke-width="0.25" textLength="13.89" lengthAdjust="spacingAndGlyphs">0</text>
<text transform="translate(948.40 2396.47) rotate(-90)" x="-1.60" y="0" font-size="25.00" fill="#000" stroke="#000" stroke-width="0.25" textLength="57.91" lengthAdjust="spacingAndGlyphs">Lung</text>
<text transform="translate(948.40 2333.07) rotate(-90)" x="-0.06" y="0" font-size="25.00" fill="#000" stroke="#000" stroke-width="0.25" textLength="77.29" lengthAdjust="spacingAndGlyphs">Weight</text>
<text transform="translate(948.40 2248.67) rotate(-90)" x="-1.22" y="0" font-size="25.00" fill="#000" stroke="#000" stroke-width="0.25" textLength="116.54" lengthAdjust="spacingAndGlyphs">(mg)/Tibia</text>
<text transform="translate(948.40 2124.57) rotate(-90)" x="-1.58" y="0" font-size="25.00" fill="#000" stroke="#000" stroke-width="0.25" textLength="71.52" lengthAdjust="spacingAndGlyphs">Lentht</text>
<text transform="translate(948.40 2048.67) rotate(-90)" x="-1.28" y="0" font-size="25.00" fill="#000" stroke="#000" stroke-width="0.25" textLength="62.59" lengthAdjust="spacingAndGlyphs">(mm)</text>
<circle cx="1130.5" cy="1881.1" r="8.2" fill="#0000ff"/>
<text x="1153.30" y="1889.60" font-size="24.71" fill="#0000ff" stroke="#0000ff" stroke-width="0.25" textLength="74.06" lengthAdjust="spacingAndGlyphs">HanSD</text>
<circle cx="1377.7" cy="1879.3" r="8.2" fill="#ff0000"/>
<text x="1400.82" y="1887.70" font-size="24.71" fill="#ff0000" stroke="#ff0000" stroke-width="0.25" textLength="43.95" lengthAdjust="spacingAndGlyphs">TGR</text>
<circle cx="1619.4" cy="1879.3" r="8.2" fill="#aa06e5"/>
<text x="1641.39" y="1887.70" font-size="24.71" fill="#aa06e5" stroke="#aa06e5" stroke-width="0.25" textLength="95.05" lengthAdjust="spacingAndGlyphs">ACF TGR</text>
<text x="964.85" y="1800.80" font-size="53.78" fill="#000" stroke="#000" stroke-width="0.54" textLength="24.63" lengthAdjust="spacingAndGlyphs">F</text>
</svg></body></html>
